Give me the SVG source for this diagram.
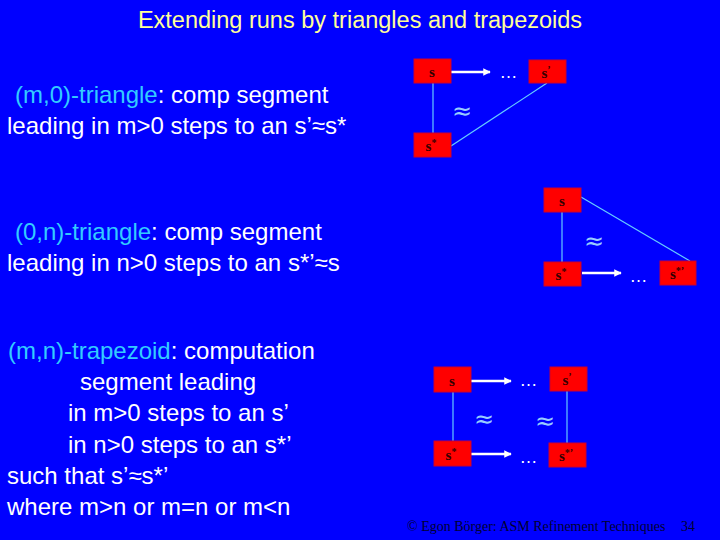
<svg xmlns="http://www.w3.org/2000/svg" width="720" height="540" viewBox="0 0 720 540">
<defs>
<style>
.t{font-family:"Liberation Sans",Arial,sans-serif;font-size:24px;fill:#ffffff}
.h{fill:#33ccff}
.title{font-family:"Liberation Sans",Arial,sans-serif;font-size:23.5px;fill:#ffff99}
.box{fill:#ff0000;stroke:#cc0033;stroke-width:1}
.lbl{font-family:"Liberation Serif","Times New Roman",serif;font-size:15px;font-weight:bold;fill:#330000;text-anchor:middle}
.sup{font-size:10px}
.line{stroke:#66ccff;stroke-width:1.2;fill:none}
.arr{stroke:#ffffff;stroke-width:2.5;fill:none;marker-end:url(#ah)}
.dots{font-family:"Liberation Sans",Arial,sans-serif;font-size:18px;fill:#ffffff;text-anchor:middle;letter-spacing:1px}
.approx{font-family:"DejaVu Sans",sans-serif;font-size:24px;fill:#99ccff;text-anchor:middle}
.foot{font-family:"Liberation Serif","Times New Roman",serif;font-size:14px;fill:#000033}
</style>
<marker id="ah" viewBox="0 0 10 10" refX="9" refY="5" markerWidth="3.2" markerHeight="3" orient="auto" markerUnits="strokeWidth">
<path d="M0,0 L10,5 L0,10 z" fill="#ffffff"/>
</marker>
</defs>
<rect x="0" y="0" width="720" height="540" fill="#0000ff"/>
<text class="title" x="360" y="28" text-anchor="middle">Extending runs by triangles and trapezoids</text>

<g id="text-m0">
<text class="t" x="15" y="103"><tspan class="h">(m,0)-triangle</tspan>: comp segment</text>
<text class="t" x="7" y="134">leading in m&gt;0 steps to an s’≈s*</text>
</g>
<g id="text-0n">
<text class="t" x="15" y="240"><tspan class="h">(0,n)-triangle</tspan>: comp segment</text>
<text class="t" x="7" y="271">leading in n&gt;0 steps to an s*’≈s</text>
</g>
<g id="text-mn">
<text class="t" x="8" y="359"><tspan class="h">(m,n)-trapezoid</tspan>: computation</text>
<text class="t" x="80" y="390">segment leading</text>
<text class="t" x="68" y="421">in m&gt;0 steps to an s’</text>
<text class="t" x="68" y="453">in n&gt;0 steps to an s*’</text>
<text class="t" x="7" y="484">such that s’≈s*’</text>
<text class="t" x="7" y="515">where m&gt;n or m=n or m&lt;n</text>
</g>

<g id="connectors">
<line class="line" x1="433" y1="83" x2="433" y2="133"/>
<line class="line" x1="547" y1="83" x2="451" y2="146"/>
<line class="arr" x1="451" y1="72" x2="490" y2="72"/>
<line class="line" x1="562" y1="212" x2="562" y2="262"/>
<line class="line" x1="581" y1="197" x2="690" y2="261"/>
<line class="arr" x1="582" y1="273" x2="621" y2="273"/>
<line class="line" x1="453" y1="392" x2="453" y2="441"/>
<line class="line" x1="567" y1="391" x2="567" y2="443"/>
<line class="arr" x1="471" y1="381" x2="511" y2="381"/>
<line class="arr" x1="471" y1="454" x2="511" y2="454"/>
</g>

<g id="tri1-s"><rect class="box" x="414" y="59" width="37" height="24"/><text class="lbl" x="432" y="77">s</text></g>
<g id="tri1-s1"><rect class="box" x="529" y="60" width="37" height="23"/><text class="lbl" x="546" y="78">s<tspan class="sup" dy="-5">’</tspan></text></g>
<g id="tri1-sstar"><rect class="box" x="414" y="133" width="37" height="24"/><text class="lbl" x="431" y="151">s<tspan class="sup" dy="-5">*</tspan></text></g>
<text class="dots" x="509" y="78">…</text>
<text class="approx" x="462" y="119">≈</text>

<g id="tri2-s"><rect class="box" x="544" y="188" width="37" height="24"/><text class="lbl" x="562" y="206">s</text></g>
<g id="tri2-sstar"><rect class="box" x="544" y="262" width="37" height="24"/><text class="lbl" x="561" y="280">s<tspan class="sup" dy="-5">*</tspan></text></g>
<g id="tri2-sstar1"><rect class="box" x="660" y="261" width="36" height="24"/><text class="lbl" x="677" y="279">s<tspan class="sup" dy="-5">*’</tspan></text></g>
<text class="dots" x="639" y="282">…</text>
<text class="approx" x="594" y="249">≈</text>

<g id="trap-s"><rect class="box" x="434" y="367" width="37" height="25"/><text class="lbl" x="452" y="386">s</text></g>
<g id="trap-s1"><rect class="box" x="550" y="367" width="37" height="24"/><text class="lbl" x="567" y="385">s<tspan class="sup" dy="-5">’</tspan></text></g>
<g id="trap-sstar"><rect class="box" x="434" y="441" width="37" height="25"/><text class="lbl" x="451" y="460">s<tspan class="sup" dy="-5">*</tspan></text></g>
<g id="trap-sstar1"><rect class="box" x="549" y="443" width="37" height="24"/><text class="lbl" x="566" y="461">s<tspan class="sup" dy="-5">*’</tspan></text></g>
<text class="dots" x="529" y="386">…</text>
<text class="dots" x="529" y="463">…</text>
<text class="approx" x="484" y="427">≈</text>
<text class="approx" x="545" y="429">≈</text>

<text class="foot" x="407" y="531">© Egon Börger: ASM Refinement Techniques</text>
<text class="foot" x="681" y="531" font-size="12">34</text>
</svg>
